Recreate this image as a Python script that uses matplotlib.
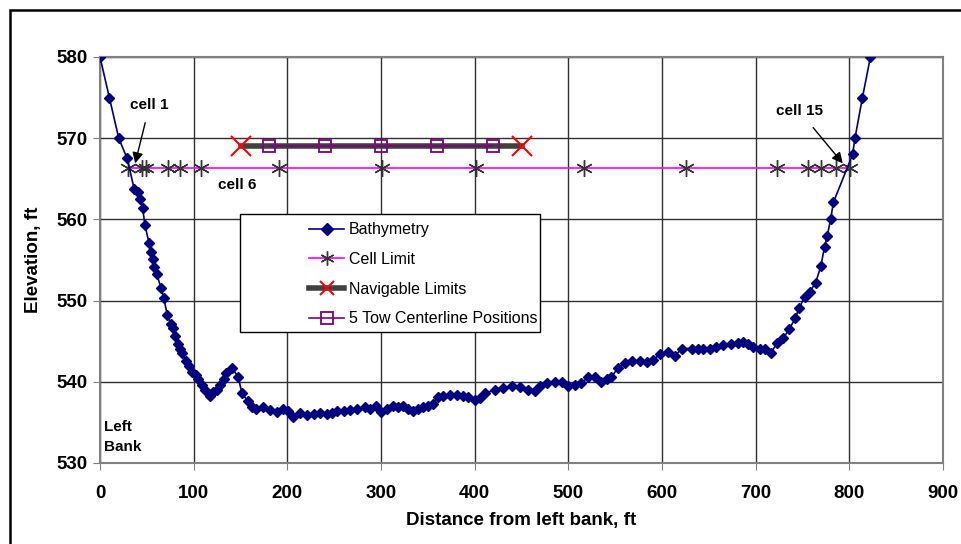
import numpy as np
import matplotlib.pyplot as plt
from matplotlib.patches import Rectangle

plt.rcParams['font.family'] = ['Liberation Sans', 'DejaVu Sans']

# bathymetry (distance ft, elevation ft)
dist = [0, 10, 20, 29, 36.6, 40.9, 42.7, 45.5, 48, 52.3, 54.1, 56.2, 58, 60.5,
        65, 68, 72, 75.5, 78, 80, 83, 85.5, 88, 91.5, 95, 98.5, 102, 105, 108.5,
        112, 117, 121, 124.5, 128, 132, 135, 141, 147.5, 151.5, 158, 162, 167,
        174, 181, 188.5, 195.5, 201, 206, 213.5, 220.5, 228, 235, 242, 247.5,
        252.5, 260, 267, 274, 283, 288, 294.5, 300.5, 306, 313, 318.5, 324, 329,
        334.5, 340, 345, 350.5, 356, 361, 366.5, 373.5, 381, 388, 393, 400,
        405.5, 411, 421.5, 430.5, 439.5, 448.5, 457, 464.5, 470, 477, 486, 493,
        500, 507, 514, 521, 528.5, 534.5, 541, 546, 553, 560.5, 567.5, 576.5,
        583.5, 590.5, 598, 606.5, 614, 621, 631.5, 638.5, 644, 651, 658, 665.5,
        674, 681.5, 687, 692, 697.5, 704.5, 710, 716.5, 723, 729.5, 736, 742,
        746.5, 752.5, 758, 764, 769.5, 773.5, 776.5, 780, 783, 803.5, 806, 814,
        822.5]
elev = [580, 575, 570, 567.5, 563.7, 563.4, 562.5, 561.4, 559.3, 557.1, 556.0,
        555.1, 554.1, 553.3, 551.6, 550.3, 548.2, 547.1, 546.6, 545.6, 544.7,
        544.1, 543.5, 542.5, 541.9, 541.2, 540.8, 540.3, 539.6, 539.0, 538.3,
        538.7, 539.0, 539.6, 540.4, 541.1, 541.7, 540.6, 538.6, 537.6, 536.9,
        536.6, 536.9, 536.5, 536.3, 536.7, 536.4, 535.7, 536.2, 535.9, 536.0,
        536.1, 536.0, 536.2, 536.4, 536.4, 536.5, 536.6, 536.9, 536.7, 537.0,
        536.3, 536.7, 537.0, 536.9, 537.0, 536.7, 536.4, 536.6, 536.9, 537.0,
        537.3, 538.1, 538.3, 538.4, 538.4, 538.3, 538.1, 537.8, 538.0, 538.6,
        539.0, 539.2, 539.5, 539.4, 539.0, 538.9, 539.5, 539.8, 540.0, 540.0,
        539.5, 539.6, 539.8, 540.6, 540.6, 540.0, 540.4, 540.6, 541.7, 542.3,
        542.5, 542.5, 542.4, 542.7, 543.4, 543.7, 543.2, 544.1, 544.1, 544.1,
        544.1, 544.1, 544.3, 544.5, 544.7, 544.8, 544.9, 544.7, 544.3, 544.1,
        544.0, 543.6, 544.8, 545.4, 546.5, 547.8, 549.1, 550.5, 551.1, 552.2,
        554.2, 556.6, 558.0, 560.0, 562.1, 568.0, 570.0, 575.0, 580.0]

# cell limits
cell_x = [30, 44.5, 49.5, 73, 85.5, 108, 191, 301, 401, 517, 626, 722.5, 756,
          770, 786, 801]
cell_elev = 566.3

# navigable limits and tow centerlines
nav_x = [150, 450]
tow_x = [180, 240, 300, 360, 420]
nav_elev = 569.0

fig = plt.figure(figsize=(9.61, 5.44), dpi=100)
ax = fig.add_axes([100 / 961, 81 / 544, 843 / 961, 406 / 544])

ax.plot(cell_x, [cell_elev] * len(cell_x), color='#ff00ff', lw=1.2,
        marker=(6, 2, 0), ms=12, mec='#333333', mfc='#333333', mew=1.0,
        label='Cell Limit', zorder=3)
ax.plot(nav_x, [nav_elev] * len(nav_x), color='#404040', lw=4,
        marker='x', ms=14, mec='red', mew=1.5, label='Navigable Limits',
        zorder=4)
ax.plot(tow_x, [nav_elev] * len(tow_x), color='#800080', lw=1.2,
        marker='s', ms=9, mfc='none', mec='#800080', mew=1.3,
        label='5 Tow Centerline Positions', zorder=5)
ax.plot(dist, elev, color='#000080', lw=1.2, marker='D', ms=5,
        label='Bathymetry', zorder=6)

ax.set_xlim(0, 900)
ax.set_ylim(530, 580)
ax.set_xticks(np.arange(0, 901, 100))
ax.set_yticks(np.arange(530, 581, 10))
ax.grid(True, color='#303030', lw=1)
ax.set_axisbelow(True)
for s in ax.spines.values():
    s.set_color('#808080')
    s.set_linewidth(1.5)
ax.tick_params(length=5, color='#808080', labelsize=13.5, pad=4)
ax.tick_params(axis='x', pad=11)
for lab in ax.get_xticklabels() + ax.get_yticklabels():
    lab.set_fontweight('bold')
ax.set_xlabel('Distance from left bank, ft', fontsize=13.5, fontweight='bold',
              labelpad=7)
ax.set_ylabel('Elevation, ft', fontsize=13.5, fontweight='bold', labelpad=10)

ax.annotate('cell 1', xy=(37.5, 566.9), xytext=(53, 574.1), ha='center',
            va='center', fontsize=11, fontweight='bold',
            arrowprops=dict(arrowstyle='-|>', color='black', lw=1,
                            mutation_scale=16, shrinkA=6, shrinkB=0))
ax.annotate('cell 15', xy=(793, 566.9), xytext=(747, 573.3), ha='center',
            va='center', fontsize=11, fontweight='bold',
            arrowprops=dict(arrowstyle='-|>', color='black', lw=1,
                            mutation_scale=16, shrinkA=6, shrinkB=0))
ax.text(146, 564.2, 'cell 6', ha='center', va='center', fontsize=11,
        fontweight='bold')
ax.text(4, 533.2, 'Left\nBank', ha='left', va='center', fontsize=11,
        fontweight='bold', linespacing=1.6)

# legend box drawn separately (wide white frame, entries to the right)
ax.add_patch(Rectangle((0.166, 0.323), 0.356, 0.290, transform=ax.transAxes,
                       facecolor='white', edgecolor='black', lw=1, zorder=9))

handles, labels = ax.get_legend_handles_labels()
order = [3, 0, 1, 2]
leg = ax.legend([handles[i] for i in order], [labels[i] for i in order],
                loc='upper left', bbox_to_anchor=(0.248, 0.593), fontsize=11.5,
                frameon=False, handlelength=2.2, handletextpad=0.3,
                borderpad=0, labelspacing=0.92, borderaxespad=0)
leg.set_zorder(10)
for h in leg.legend_handles:
    if h.get_marker() == 'x':
        h.set_markersize(10)
    elif h.get_marker() == 's':
        h.set_markersize(8)
    elif h.get_marker() == 'D':
        h.set_markersize(6)
    else:
        h.set_markersize(10)

fig.patches.append(Rectangle((10 / 961, -0.1), 1.2, 1 - 10 / 544 + 0.1,
                             transform=fig.transFigure, fill=False,
                             lw=1.8, ec='black'))

plt.savefig('out.png', dpi=100)
